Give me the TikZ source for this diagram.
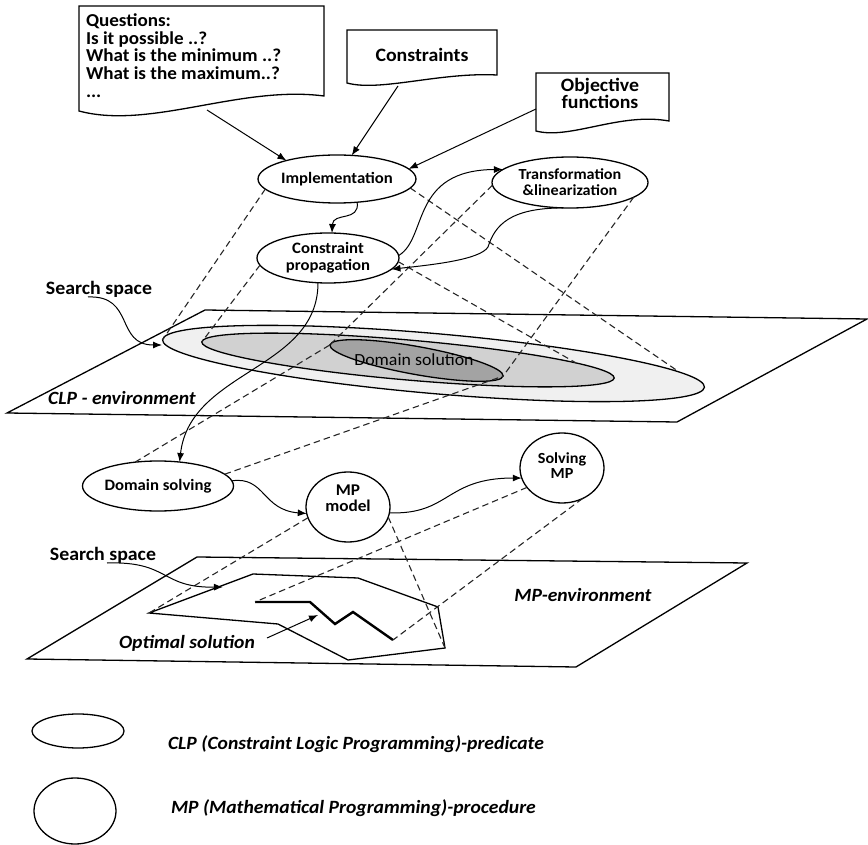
\documentclass[tikz,border=0pt]{standalone}
\usepackage{fontspec}
\setmainfont{Carlito}[FakeStretch=1.05]
\usetikzlibrary{shapes.geometric,arrows.meta}
\begin{document}
\begin{tikzpicture}[x=1pt,y=-1pt,
  every node/.style={inner sep=0pt, outer sep=0pt},
  boxtxt/.style={font=\bfseries\fontsize{18.9}{16.7}\selectfont, align=center},
  qtxt/.style={font=\bfseries\fontsize{18.2}{17.6}\selectfont, align=left},
  clp/.style={draw, ellipse, line width=1.3pt, font=\bfseries\fontsize{15.9}{16.5}\selectfont, align=center},
  mpn/.style={draw, ellipse, line width=1.3pt, minimum width=84, minimum height=70},
  mptxt/.style={font=\bfseries\fontsize{16.4}{16}\selectfont, align=center},
  doc/.style={draw, line width=1.3pt, fill=white},
  plane/.style={draw, line width=1.3pt},
  arr/.style={line width=1pt, -{Latex[length=9pt,width=7pt]}},
  dsh/.style={line width=1.1pt, dash pattern=on 6.5pt off 4pt, black!85},
  itl/.style={font=\bfseries\itshape\fontsize{18.7}{19}\selectfont},
  region/.style={draw, ellipse, line width=1.3pt},
]
\useasboundingbox (0,0) rectangle (868,845);

% document boxes
\draw[doc] (79,111) -- (79,6) -- (324,6) -- (324,96) .. controls (240,85) and (150,130) .. (79,111) -- cycle;
\node[qtxt, anchor=north west] (q) at (86,14) {Questions:\\Is it possible ..?\\What is the minimum ..?\\What is the maximum..?\\...};
\draw[doc] (347,83) -- (347,30) -- (497,30) -- (497,75) .. controls (440,72) and (380,92) .. (347,83) -- cycle;
\node[boxtxt] (c) at (422,55) {Constraints};
\draw[doc] (536,131) -- (536,73) -- (669,73) -- (669,121) .. controls (620,112) and (570,140) .. (536,131) -- cycle;
\node[boxtxt, font=\bfseries\fontsize{18.9}{17.5}\selectfont] (o) at (600,93.5) {Objective\\functions};
\coordinate (qout) at (207,110);
\coordinate (cout) at (398,86);
\coordinate (oout) at (536,109);

% CLP plane
\draw[plane] (205,310) -- (867,319) -- (677,422) -- (7,413) -- cycle;
\node[region, fill=black!6, minimum width=544, minimum height=60, rotate=-5] (outer) at (433.5,363.5) {};
\node[region, fill=black!18, minimum width=414, minimum height=40, rotate=-5] (mid) at (408,360) {};
\node[region, fill=black!36, minimum width=176, minimum height=28, rotate=-10.2] (inner) at (416.5,360.5) {};
\node[font=\fontsize{17}{18}\selectfont, text=black] (domsol) at (414,360) {Domain solution};
\node[itl] (clpenv) at (122,398) {CLP - environment};

% MP plane
\draw[plane] (197,557) -- (747,563) -- (576,667) -- (27,659) -- cycle;
\coordinate (pa) at (149,613);
\coordinate (pe) at (445,648);
\draw[plane] (pa) -- (253,574) -- (358,578) -- (438,607) -- (pe) -- (348,660) -- (278,624) -- cycle;
\coordinate (o1) at (255,602);
\coordinate (o5) at (393,640);
\draw[line width=2.4pt] (o1) -- (310,602) -- (335,624) -- (353,612) -- (o5);
\node[itl] (mpenv) at (583,595) {MP-environment};
\node[itl] (opt) at (187,643) {Optimal solution};

% procedure nodes
\node[clp, fill=white, minimum width=136, minimum height=48] (impl) at (337,179) {Implementation};
\node[clp, fill=white, minimum width=142, minimum height=50] (cp) at (328,258) {Constraint\\propagation};
\node[clp, fill=white, minimum width=156, minimum height=51, font=\bfseries\fontsize{15.4}{16}\selectfont] (tr) at (570,182.5) {Transformation\\\&linearization};
\node[clp, minimum width=144, minimum height=50] (ds) at (158,486) {Domain solving};
\node[mpn] (mp) at (348,507) {};
\node[mptxt] (mpt) at (348,498) {MP\\model};
\node[mpn] (smp) at (562,468) {};
\node[mptxt, font=\bfseries\fontsize{15.4}{15.5}\selectfont] (smpt) at (562,465.5) {Solving\\MP};

% labels
\node[boxtxt] (ss1) at (99,289) {Search space};
\coordinate (ss1a) at (88,297);
\coordinate (ss1b) at (162,345);
\node[boxtxt] (ss2) at (103,555) {Search space};
\coordinate (ss2a) at (107,563);
\coordinate (ss2b) at (223,587);
\coordinate (opta) at (267,638);
\coordinate (optb) at (318,615);

% dashed projections
\draw[dsh] (impl.188) -- (outer.west);
\draw[dsh] (impl.353) -- (outer.3);
\draw[dsh] (cp.186) -- (mid.west);
\draw[dsh] (cp.357) -- (mid.4);
\draw[dsh] (tr.182) -- (inner.west);
\draw[dsh] (tr.347) -- (inner.east);
\draw[dsh] (ds.134) -- (inner.west);
\draw[dsh] (ds.10) -- (inner.east);
\draw[dsh] (mp.195) -- (pa);
\draw[dsh] (mp.346) -- (pe);
\draw[dsh] (smp.209) -- (o1);
\draw[dsh] (smp.304) -- (o5);

% arrows
\draw[arr] (qout) -- (impl.160);
\draw[arr] (cout) -- (impl.58);
\draw[arr] (oout) -- (impl.8);
\draw[arr] (impl.311) .. controls (360,222) and (333,212) .. (cp.81);
\draw[arr] (cp.2) .. controls (428,238) and (410,170) .. (tr.169);
\draw[arr] (tr.255) .. controls (510,208) and (495,225) .. (488,247) .. controls (480,260) and (430,265) .. (cp.350);
\draw[arr] (cp.248) .. controls (318,370) and (190,370) .. (ds.48);
\draw[arr] (ds.4) .. controls (265,476) and (262,510) .. (mp.189);
\draw[arr] (mp.352) .. controls (450,515) and (445,478) .. (smp.194);
\draw[arr] (ss1a) .. controls (135,295) and (115,345) .. (ss1b);
\draw[arr] (ss2a) .. controls (170,561) and (160,588) .. (ss2b);
\draw[arr] (opta) -- (optb);

% legend
\node[region, minimum width=92, minimum height=34] (legclp) at (78,731) {};
\node[region, minimum width=82, minimum height=66] (legmp) at (75,811) {};
\node[itl, anchor=west] (legclpt) at (168,744) {CLP (Constraint Logic Programming)-predicate};
\node[itl, anchor=west] (legmpt) at (171,808) {MP (Mathematical Programming)-procedure};
\end{tikzpicture}
\end{document}
